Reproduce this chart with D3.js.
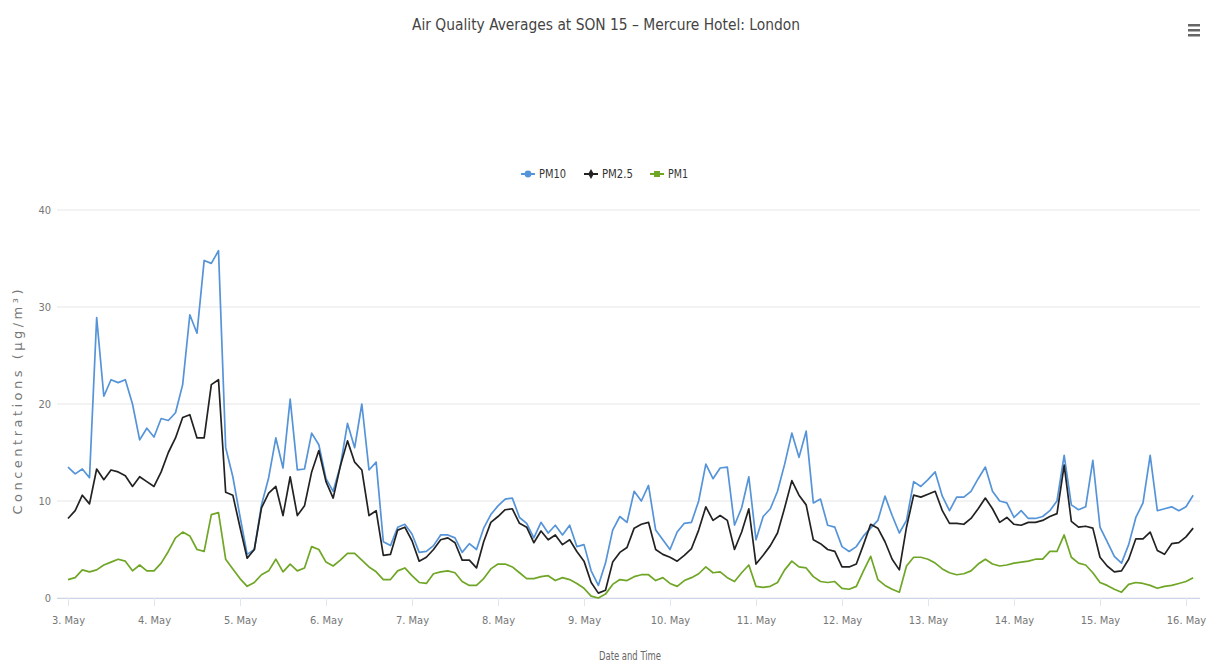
<!DOCTYPE html>
<html>
<head>
<meta charset="utf-8">
<script src="https://cdn.jsdelivr.net/npm/d3@7/dist/d3.min.js"></script>
<style>
  body { margin: 0; background: #fff; }
  text { font-family: "Liberation Sans Narrow", "DejaVu Sans Condensed", sans-serif; }
</style>
</head>
<body>
<div id="chart"></div>
<script>
// readings every 2 hours, starting 3 May 00:00
var startTime = Date.UTC(2019, 4, 3, 0);
var stepHours = 2;

var pm10 = [
  13.5, 12.8, 13.3, 12.4, 28.9, 20.8, 22.5, 22.2, 22.5, 20, 16.3, 17.5,
  16.6, 18.5, 18.3, 19.1, 22, 29.2, 27.3, 34.8, 34.5, 35.8, 15.5, 12.5,
  8.4, 4.5, 5, 9.6, 12.4, 16.5, 13.4, 20.5, 13.2, 13.3, 17, 15.8,
  12.3, 11, 13.6, 18, 15.5, 20, 13.2, 14, 5.8, 5.4, 7.3, 7.6,
  6.6, 4.7, 4.8, 5.4, 6.5, 6.5, 6.2, 4.7, 5.6, 5, 7.2, 8.6,
  9.5, 10.2, 10.3, 8.3, 7.7, 6.2, 7.8, 6.7, 7.5, 6.5, 7.5, 5.3,
  5.5, 2.8, 1.3, 3.6, 7, 8.4, 7.8, 11, 10, 11.6, 7, 6,
  5, 6.8, 7.7, 7.8, 10, 13.8, 12.3, 13.4, 13.5, 7.5, 9.3, 12.5,
  6, 8.4, 9.2, 11, 13.8, 17, 14.5, 17.2, 9.8, 10.2, 7.5, 7.3,
  5.3, 4.8, 5.3, 6.4, 7.2, 8, 10.5, 8.5, 6.7, 8, 12, 11.5,
  12.2, 13, 10.5, 9, 10.4, 10.4, 11, 12.3, 13.5, 11, 10, 9.8,
  8.3, 9, 8.2, 8.2, 8.4, 9, 10, 14.7, 9.6, 9.1, 9.4, 14.2,
  7.3, 5.8, 4.3, 3.6, 5.5, 8.3, 9.8, 14.7, 9, 9.2, 9.4, 9,
  9.4, 10.6
];

var pm25 = [
  8.2, 9, 10.6, 9.7, 13.3, 12.2, 13.2, 13, 12.6, 11.5, 12.5, 12,
  11.5, 13, 15, 16.5, 18.6, 18.9, 16.5, 16.5, 22, 22.5, 10.9, 10.6,
  7.3, 4.1, 5, 9.3, 10.8, 11.5, 8.5, 12.5, 8.5, 9.5, 13, 15.2,
  12, 10.3, 13.6, 16.2, 14, 13.2, 8.5, 9, 4.4, 4.5, 7, 7.3,
  5.9, 3.8, 4.2, 5, 6, 6.2, 5.7, 3.9, 3.9, 3.1, 5.8, 7.8,
  8.4, 9.1, 9.2, 7.7, 7.3, 5.7, 6.9, 6, 6.5, 5.5, 6, 4.8,
  3.8, 1.6, 0.5, 0.8, 3.7, 4.7, 5.2, 7.2, 7.6, 7.8, 5, 4.5,
  4.2, 3.8, 4.4, 5.1, 7, 9.4, 8, 8.5, 8, 5, 6.8, 9.2,
  3.5, 4.4, 5.4, 6.7, 9.3, 12.1, 10.6, 9.6, 6, 5.6, 5, 4.8,
  3.2, 3.2, 3.5, 5.5, 7.6, 7.2, 5.8, 4, 2.9, 7.3, 10.6, 10.4,
  10.7, 11, 9, 7.7, 7.7, 7.6, 8.2, 9.2, 10.3, 9.2, 7.8, 8.3,
  7.6, 7.5, 7.8, 7.8, 8, 8.4, 8.7, 13.7, 7.9, 7.3, 7.4, 7.2,
  4.2, 3.3, 2.7, 2.8, 4, 6.1, 6.1, 6.8, 4.9, 4.5, 5.6, 5.7,
  6.3, 7.2
];

var pm1 = [
  1.9, 2.1, 2.9, 2.7, 2.9, 3.4, 3.7, 4, 3.8, 2.8, 3.4, 2.8,
  2.8, 3.6, 4.8, 6.2, 6.8, 6.4, 5, 4.8, 8.6, 8.8, 4, 3,
  2, 1.2, 1.6, 2.4, 2.8, 4, 2.7, 3.5, 2.8, 3.1, 5.3, 5,
  3.7, 3.3, 3.9, 4.6, 4.6, 3.9, 3.2, 2.7, 1.9, 1.9, 2.8, 3.1,
  2.3, 1.6, 1.5, 2.5, 2.7, 2.8, 2.6, 1.7, 1.3, 1.3, 2, 3,
  3.5, 3.5, 3.2, 2.6, 2, 2, 2.2, 2.3, 1.8, 2.1, 1.9, 1.5,
  1, 0.2, 0, 0.4, 1.4, 1.9, 1.8, 2.2, 2.4, 2.4, 1.8, 2.1,
  1.5, 1.2, 1.8, 2.1, 2.5, 3.2, 2.6, 2.7, 2.1, 1.7, 2.6, 3.4,
  1.2, 1.1, 1.2, 1.6, 2.9, 3.8, 3.2, 3.1, 2.2, 1.7, 1.6, 1.7,
  1, 0.9, 1.2, 2.8, 4.3, 1.9, 1.3, 0.9, 0.6, 3.3, 4.2, 4.2,
  4, 3.6, 3, 2.6, 2.4, 2.5, 2.8, 3.5, 4, 3.5, 3.3, 3.4,
  3.6, 3.7, 3.8, 4, 4, 4.8, 4.8, 6.5, 4.2, 3.6, 3.4, 2.6,
  1.6, 1.3, 0.9, 0.6, 1.4, 1.6, 1.5, 1.3, 1, 1.2, 1.3, 1.5,
  1.7, 2.1
];

var seriesNames = ["PM10", "PM2.5", "PM1"];
var seriesColors = ["#5594d8", "#222222", "#6fa626"];
var yTicks = [0, 10, 20, 30, 40];
var monthNames = ["Jan", "Feb", "Mar", "Apr", "May", "Jun", "Jul", "Aug", "Sep", "Oct", "Nov", "Dec"];

var svgWidth = 1226;
var svgHeight = 663;

var margin = {
  top: 210,
  right: 26,
  bottom: 65,
  left: 57
};

var width = svgWidth - margin.left - margin.right;
var height = svgHeight - margin.top - margin.bottom;

var svg = d3.select("#chart")
  .append("svg")
  .attr("width", svgWidth)
  .attr("height", svgHeight);

var chartGroup = svg.append("g")
  .attr("transform", `translate(${margin.left}, ${margin.top})`);

// scales
var xScale = d3.scaleUtc()
  .domain([new Date(startTime), new Date(Date.UTC(2019, 4, 16, 0))])
  .range([11, width - 14]);

var yScale = d3.scaleLinear()
  .domain([0, 40])
  .range([height, 0]);

// grid lines
chartGroup.selectAll(".grid")
  .data(yTicks)
  .enter()
  .append("line")
  .attr("x1", 0)
  .attr("x2", width)
  .attr("y1", d => yScale(d))
  .attr("y2", d => yScale(d))
  .attr("stroke", "#e6e6e6")
  .attr("stroke-width", 1);

// x axis
var bottomAxis = d3.axisBottom(xScale)
  .ticks(d3.utcDay.every(1))
  .tickSize(8)
  .tickPadding(10)
  .tickFormat(d => d.getUTCDate() + ". " + monthNames[d.getUTCMonth()]);

var xAxis = chartGroup.append("g")
  .attr("transform", `translate(0, ${height})`)
  .call(bottomAxis);

xAxis.select(".domain").attr("stroke", "#ccd6eb").attr("d", `M0,0.5H${width}`);
xAxis.selectAll(".tick line").attr("stroke", "#e0e6ee");
xAxis.selectAll(".tick text")
  .attr("fill", "#777")
  .style("font-size", "11px");

// y axis labels
var leftAxis = d3.axisLeft(yScale)
  .tickValues(yTicks)
  .tickSize(0)
  .tickPadding(6);

var yAxis = chartGroup.append("g")
  .call(leftAxis);

yAxis.select(".domain").remove();
yAxis.selectAll(".tick text")
  .attr("fill", "#777")
  .style("font-size", "11px");

// lines
var allSeries = [pm10, pm25, pm1];

var line = d3.line()
  .x((d, i) => xScale(new Date(startTime + i * stepHours * 3600000)))
  .y(d => yScale(d));

chartGroup.selectAll(".series")
  .data(allSeries)
  .enter()
  .append("path")
  .attr("class", "series")
  .attr("fill", "none")
  .attr("stroke", (d, i) => seriesColors[i])
  .attr("stroke-width", 1.7)
  .attr("stroke-linejoin", "round")
  .attr("d", d => line(d));

// title
svg.append("text")
  .attr("x", 606)
  .attr("y", 30)
  .attr("text-anchor", "middle")
  .attr("fill", "#444")
  .attr("textLength", 388)
  .attr("lengthAdjust", "spacingAndGlyphs")
  .style("font-size", "16px")
  .text("Air Quality Averages at SON 15 \u2013 Mercure Hotel: London");

// axis titles
svg.append("text")
  .attr("transform", "translate(22, 402) rotate(-90)")
  .attr("text-anchor", "middle")
  .attr("fill", "#777")
  .attr("textLength", 225)
  .style("font-family", "'DejaVu Sans', sans-serif")
  .style("font-size", "13px")
  .text("Concentrations (\u00b5g/m\u00b3)");

svg.append("text")
  .attr("x", 630)
  .attr("y", 660)
  .attr("text-anchor", "middle")
  .attr("fill", "#666")
  .attr("textLength", 62)
  .attr("lengthAdjust", "spacingAndGlyphs")
  .style("font-size", "12px")
  .text("Date and Time");

// legend
var legendX = [521, 584, 650];
var legendWidth = [27, 31, 20];
var legend = svg.selectAll(".legend")
  .data(seriesNames)
  .enter()
  .append("g")
  .attr("class", "legend")
  .attr("transform", (d, i) => `translate(${legendX[i]}, 174)`);

legend.append("line")
  .attr("x1", 0)
  .attr("x2", 14)
  .attr("stroke", (d, i) => seriesColors[i])
  .attr("stroke-width", 2);

legend.append("path")
  .attr("transform", "translate(7, 0)")
  .attr("d", (d, i) => d3.symbol().type([d3.symbolCircle, d3.symbolDiamond, d3.symbolSquare][i]).size(i == 1 ? 28 : 36)())
  .attr("fill", (d, i) => seriesColors[i]);

legend.append("text")
  .attr("x", 18)
  .attr("y", 4)
  .attr("fill", "#333")
  .attr("textLength", (d, i) => legendWidth[i])
  .attr("lengthAdjust", "spacingAndGlyphs")
  .style("font-size", "12px")
  .text(d => d);

// menu icon
svg.selectAll(".menu")
  .data([0, 5, 10])
  .enter()
  .append("rect")
  .attr("x", 1188)
  .attr("y", d => 24 + d)
  .attr("width", 12)
  .attr("height", 2.5)
  .attr("fill", "#666");
</script>
</body>
</html>
